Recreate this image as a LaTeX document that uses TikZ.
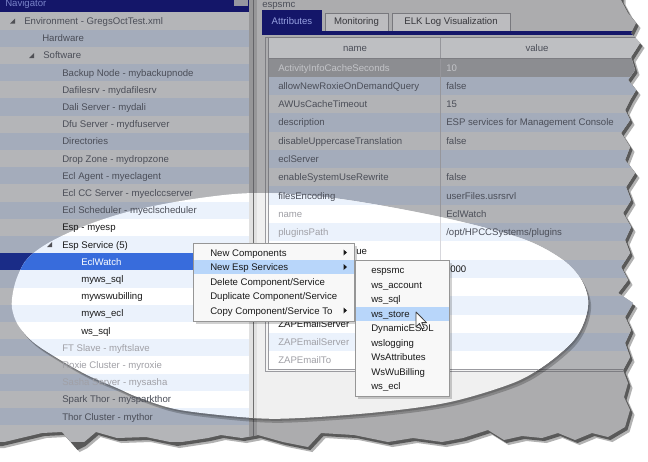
\documentclass[tikz,border=0pt]{standalone}
\usepackage{fontspec}
\setmainfont{Liberation Sans}
\newcommand\appfont{\fontsize{7.2}{8.6}\selectfont}
% dimmed palette (outside the spotlight)
\definecolor{D-tEven}{RGB}{180,181,184}
\definecolor{D-tOdd}{RGB}{164,172,187}
\definecolor{D-selc}{RGB}{26,44,135}
\definecolor{D-navyc}{RGB}{20,22,105}
\definecolor{D-btnc}{RGB}{150,150,160}
\definecolor{D-pBg}{RGB}{172,172,174}
\definecolor{D-sepc}{RGB}{150,150,152}
\definecolor{D-sepline}{RGB}{100,100,104}
\definecolor{D-tabc}{RGB}{188,188,191}
\definecolor{D-tabBorder}{RGB}{120,120,125}
\definecolor{D-tblBg}{RGB}{172,172,174}
\definecolor{D-hdr}{RGB}{190,191,194}
\definecolor{D-rEven}{RGB}{178,179,182}
\definecolor{D-rOdd}{RGB}{164,172,187}
\definecolor{D-selrow}{RGB}{140,141,145}
\definecolor{D-frame}{RGB}{125,125,130}
\definecolor{D-divc}{RGB}{150,150,155}
% clear palette (inside the spotlight)
\definecolor{C-tEven}{RGB}{255,255,255}
\definecolor{C-tOdd}{RGB}{235,242,252}
\definecolor{C-selc}{RGB}{56,108,220}
\definecolor{C-navyc}{RGB}{30,40,150}
\definecolor{C-btnc}{RGB}{220,220,225}
\definecolor{C-pBg}{RGB}{240,240,240}
\definecolor{C-sepc}{RGB}{225,225,225}
\definecolor{C-sepline}{RGB}{110,110,110}
\definecolor{C-tabc}{RGB}{235,235,235}
\definecolor{C-tabBorder}{RGB}{170,170,170}
\definecolor{C-tblBg}{RGB}{245,245,245}
\definecolor{C-hdr}{RGB}{236,236,238}
\definecolor{C-rEven}{RGB}{255,255,255}
\definecolor{C-rOdd}{RGB}{235,242,252}
\definecolor{C-selrow}{RGB}{190,190,195}
\definecolor{C-frame}{RGB}{155,155,160}
\definecolor{C-divc}{RGB}{215,215,220}
% text colours
\definecolor{od}{RGB}{75,78,88}
\definecolor{ib}{RGB}{160,160,166}
\definecolor{fc}{RGB}{25,25,25}
\definecolor{selt}{RGB}{195,196,200}
\definecolor{navtxt}{RGB}{120,130,200}
\definecolor{atab}{RGB}{150,160,225}
\definecolor{tabtxt}{RGB}{55,55,60}
\definecolor{expc}{RGB}{80,80,85}
\definecolor{menubg}{RGB}{248,248,248}
\definecolor{menuborder}{RGB}{150,150,150}
\definecolor{hil}{RGB}{184,214,250}
\newcommand\usepalette[1]{%
  \colorlet{tEven}{#1-tEven}\colorlet{tOdd}{#1-tOdd}\colorlet{selc}{#1-selc}%
  \colorlet{navyc}{#1-navyc}\colorlet{btnc}{#1-btnc}\colorlet{pBg}{#1-pBg}%
  \colorlet{sepc}{#1-sepc}\colorlet{sepline}{#1-sepline}\colorlet{tabc}{#1-tabc}%
  \colorlet{tabBorder}{#1-tabBorder}\colorlet{tblBg}{#1-tblBg}\colorlet{hdr}{#1-hdr}%
  \colorlet{rEven}{#1-rEven}\colorlet{rOdd}{#1-rOdd}\colorlet{selrow}{#1-selrow}%
  \colorlet{frame}{#1-frame}\colorlet{divc}{#1-divc}}
\newcommand\drawbg{%
  \foreach \i in {0,2,...,24}{\fill[tEven] (0,{12.4+17.2*\i}) rectangle (250,{29.6+17.2*\i});}
  \foreach \i in {1,3,...,23}{\fill[tOdd] (0,{12.4+17.2*\i}) rectangle (250,{29.6+17.2*\i});}
  \fill[selc] (0,253.2) rectangle (250,270.4);
  \fill[navyc] (0,-2) rectangle (249,12);
  \fill[btnc] (234,-2) rectangle (248,6);
  \fill[pBg] (250,-2) rectangle (670,470);
  \fill[sepc] (249,-2) rectangle (257,470);
  \draw[sepline, line width=1.2] (253.5,-2) -- (253.5,470);
  \fill[navyc] (262,10) rectangle (322,35);
  \filldraw[fill=tabc, draw=tabBorder] (325,13) rectangle (388,31);
  \filldraw[fill=tabc, draw=tabBorder] (392,13) rectangle (510,31);
  \fill[navyc] (262,31) rectangle (670,35);
  \filldraw[fill=tblBg, draw=frame] (265,37) rectangle (670,371);
  \fill[hdr] (268,38) rectangle (670,58.35);
  \foreach \k in {0,2,...,16}{\fill[rEven] (268,{58.35+18.3*\k}) rectangle (670,{76.65+18.3*\k});}
  \foreach \k in {1,3,...,15}{\fill[rOdd] (268,{58.35+18.3*\k}) rectangle (670,{76.65+18.3*\k});}
  \fill[selrow] (268,58.35) rectangle (670,76.65);
  \draw[divc] (440,38) -- (440,369.5);
  \draw[frame] (268,38) -- (268,369.5) -- (670,369.5);
  \draw[frame] (268,58.35) -- (670,58.35);
}
\def\tornpath{(-5,-5) -- (621,-5) -- (621,0) -- (628,13) -- (636,23) -- (631,33) -- (640,43) -- (631,57) -- (635,70) -- (628,80) -- (636,90) -- (630,100) -- (625,110) -- (630,120) -- (621,133) -- (630,147) -- (625,160) -- (635,173) -- (626,187) -- (631,200) -- (623,213) -- (631,227) -- (625,240) -- (630,253) -- (621,267) -- (628,280) -- (618,293) -- (633,303) -- (625,317) -- (631,330) -- (625,343) -- (630,357) -- (623,370) -- (628,383) -- (624,397) -- (630,410) -- (625,427) -- (608,437) -- (592,433) -- (575,440) -- (558,433) -- (542,438) -- (522,436) -- (504,440) -- (488,430) -- (463,438) -- (442,442) -- (413,438) -- (388,442) -- (354,435) -- (321,433) -- (308,447) -- (283,442) -- (258,435) -- (242,438) -- (221,435) -- (208,438) -- (175,443) -- (146,437) -- (117,438) -- (96,432) -- (83,443) -- (75,447) -- (62,432) -- (42,433) -- (21,438) -- (0,443) -- (-5,443) -- cycle}
\def\spotpath{plot[smooth cycle, tension=0.55] coordinates {(12,308) (13,292) (18,275) (28,258) (50,242) (87,225) (135,210) (200,198) (260,193) (340,199) (440,217) (520,238) (560,258) (580,278) (588,300) (584,322) (572,342) (545,365) (513,383) (450,402) (380,412) (300,418) (253,418) (180,410) (140,398) (117,388) (87,375) (57,358) (33,342) (18,325)}}
\begin{document}
\begin{tikzpicture}[x=0.75pt, y=-0.75pt,
  txt/.style={anchor=base west, inner sep=0pt, font=\appfont},
  ctr/.style={anchor=base, inner sep=0pt, font=\appfont},
  menubox/.style={fill=menubg, draw=menuborder, line width=0.6pt},
  menushadow/.style={fill=black, opacity=0.18},
  arrowtip/.style={fill=fc}]
\useasboundingbox (0,0) rectangle (648,461);
\fill[white] (0,0) rectangle (648,461);
% shadow of the torn screenshot
\begin{scope}[shift={(4.5,5)}]\fill[black!30] \tornpath;\end{scope}
\begin{scope}[shift={(2.5,3)}]\fill[black!65] \tornpath;\end{scope}
\begin{scope}
\clip \tornpath;
\usepalette{D}\drawbg
\begin{scope}[shift={(3,4)}]\fill[black, opacity=0.22] \spotpath;\end{scope}
\begin{scope}[shift={(1.5,2)}]\fill[black, opacity=0.18] \spotpath;\end{scope}
\begin{scope}
\clip \spotpath;
\usepalette{C}\drawbg
\end{scope}
% navigator texts
\node[txt, text=navtxt] (navtitle) at (5,6.5) {Navigator};
\fill[expc] (15,18.5) -- (15,23.5) -- (10,23.5) -- cycle;
\fill[expc] (34,53) -- (34,58) -- (29,58) -- cycle;
\fill[expc] (52,242) -- (52,247) -- (47,247) -- cycle;
\foreach \i/\xx/\t/\c in {
 0/24/{Environment - GregsOctTest.xml}/od,
 1/42/{Hardware}/od,
 2/43/{Software}/od,
 3/62/{Backup Node - mybackupnode}/od,
 4/62/{Dafilesrv - mydafilesrv}/od,
 5/62/{Dali Server - mydali}/od,
 6/62/{Dfu Server - mydfuserver}/od,
 7/62/{Directories}/od,
 8/62/{Drop Zone - mydropzone}/od,
 9/62/{Ecl Agent - myeclagent}/od,
 10/62/{Ecl CC Server - myeclccserver}/od,
 11/62/{Ecl Scheduler - myeclscheduler}/od,
 12/62/{Esp - myesp}/fc,
 13/62/{Esp Service (5)}/fc,
 14/81/{EclWatch}/white,
 15/81/{myws\_sql}/fc,
 16/81/{mywswubilling}/fc,
 17/81/{myws\_ecl}/fc,
 18/81/{ws\_sql}/fc,
 19/62/{FT Slave - myftslave}/ib,
 20/62/{Roxie Cluster - myroxie}/ib,
 21/62/{Sasha Server - mysasha}/ib,
 22/62/{Spark Thor - mysparkthor}/od,
 23/62/{Thor Cluster - mythor}/od}
 {\node[txt, text=\c] (tree\i) at (\xx,{24.5+17.2*\i}) {\t};}
% right panel texts
\node[txt, text=od] (paneltitle) at (262,7) {espsmc};
\node[ctr, text=atab] (tab1) at (292,24.2) {Attributes};
\node[ctr, text=tabtxt] (tab2) at (356.5,24.2) {Monitoring};
\node[ctr, text=tabtxt] (tab3) at (451,24.2) {ELK Log Visualization};
\node[ctr, text=od] (hname) at (355,51) {name};
\node[ctr, text=od] (hvalue) at (537,51) {value};
\foreach \k/\n/\v/\c in {
 0/{ActivityInfoCacheSeconds}/{10}/selt,
 1/{allowNewRoxieOnDemandQuery}/{false}/od,
 2/{AWUsCacheTimeout}/{15}/od,
 3/{description}/{ESP services for Management Console}/od,
 4/{disableUppercaseTranslation}/{false}/od,
 5/{eclServer}/{}/od,
 6/{enableSystemUseRewrite}/{false}/od,
 7/{filesEncoding}/{userFiles.usrsrvl}/od}
 {\node[txt, text=\c] (nm\k) at (278,{71+18.3*\k}) {\n};
  \node[txt, text=\c] (vl\k) at (446,{71+18.3*\k}) {\v};}
\node[txt, text=ib] (nm8) at (278,{71+18.3*8}) {name};
\node[txt, text=od] (vl8) at (446,{71+18.3*8}) {EclWatch};
\node[txt, text=ib] (nm9) at (278,{71+18.3*9}) {pluginsPath};
\node[txt, text=od] (vl9) at (446,{71+18.3*9}) {/opt/HPCCSystems/plugins};
\node[txt, text=fc] (nm10) at (356,{71+18.3*10}) {ue};
\node[txt, text=fc] (vl11) at (450,{71+18.3*11}) {000};
\node[txt, text=fc] (nm14) at (278,{71+18.3*14}) {ZAPEmailServer};
\node[txt, text=ib] (nm15) at (278,{71+18.3*15}) {ZAPEmailServer};
\node[txt, text=ib] (nm16) at (278,{71+18.3*16}) {ZAPEmailTo};
\end{scope}
% context menu
\fill[menushadow] (195.5,245.5) rectangle (356.5,323.5);
\filldraw[menubox] (193,243) rectangle (354,321);
\fill[hil] (193.5,260) rectangle (353.5,274);
\node[txt, text=fc] (m1) at (210,256) {New Components};
\node[txt, text=fc] (m2) at (210,270.5) {New Esp Services};
\node[txt, text=fc] (m3) at (210,285) {Delete Component/Service};
\node[txt, text=fc] (m4) at (210,299.5) {Duplicate Component/Service};
\node[txt, text=fc] (m5) at (210,314) {Copy Component/Service To};
\foreach \yc in {252.5,267,310.5}{\fill[arrowtip] (343.5,\yc-3) -- (347,\yc) -- (343.5,\yc+3) -- cycle;}
% submenu
\fill[menushadow] (357.5,262.5) rectangle (451.5,398.5);
\filldraw[menubox] (355,260) rectangle (449,396);
\fill[hil] (355.5,306.5) rectangle (448.5,320.5);
\foreach \j/\t in {0/espsmc,1/{ws\_account},2/{ws\_sql},3/{ws\_store},4/DynamicESDL,5/wslogging,6/WsAttributes,7/WsWuBilling,8/{ws\_ecl}}
 {\node[txt, text=fc] (s\j) at (371,{273.5+14.5*\j}) {\t};}
% mouse pointer
\filldraw[fill=white, draw=black!75, line width=0.6pt, line join=round] (416,312) -- (416,327) -- (419.5,323.5) -- (422,329) -- (424.2,328) -- (421.7,322.6) -- (426.5,322.6) -- cycle;
\end{tikzpicture}
\end{document}
